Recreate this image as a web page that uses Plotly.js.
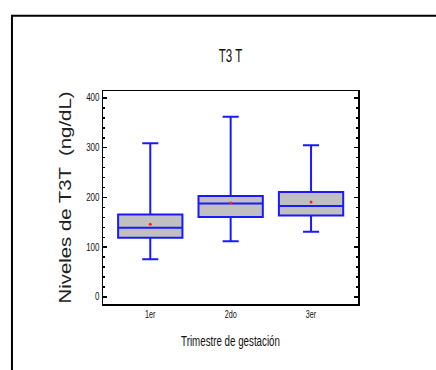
<!DOCTYPE html>
<html>
<head>
<meta charset="utf-8">
<script src="https://cdn.plot.ly/plotly-3.0.1.min.js"></script>
<style>
html,body{margin:0;padding:0;background:#fff;}
#chart{width:436px;height:370px;}
</style>
</head>
<body>
<div id="chart"></div>
<script>
// ---- data ----
const categories = ['1er', '2do', '3er'];
const lowerWhisker = [76, 112, 131];
const q1Values = [119, 161, 164];
const medianValues = [139, 188, 183];
const q3Values = [166, 203, 211];
const upperWhisker = [309, 362, 305];
const meanValues = [146, 189, 191];
const yTickValues = [0, 100, 200, 300, 400];
const yTickLabels = ['0', '100', '200', '300', '400'];

const chartTitle = 'T3 T';
const xTitle = 'Trimestre de gestación';
const yTitle = 'Niveles de T3T  (ng/dL)';

const boxTrace = {
  type: 'box',
  x: categories,
  q1: q1Values,
  median: medianValues,
  q3: q3Values,
  lowerfence: lowerWhisker,
  upperfence: upperWhisker,
  width: 0.8,
  whiskerwidth: 0.25,
  fillcolor: '#c0c0c0',
  line: {color: '#1a1aff', width: 2},
  boxpoints: false,
  hoverinfo: 'skip',
  showlegend: false
};

const meanTrace = {
  type: 'scatter',
  mode: 'markers',
  x: categories,
  y: meanValues,
  marker: {color: '#ff2020', size: 3, symbol: 'circle'},
  hoverinfo: 'skip',
  showlegend: false
};

const narrow = 'Liberation Sans, Arial, sans-serif';

const layout = {
  width: 436,
  height: 370,
  margin: {l: 103, r: 78, t: 91, b: 66, pad: 0},
  paper_bgcolor: '#ffffff',
  plot_bgcolor: '#ffffff',
  showlegend: false,
  title: {
    text: chartTitle,
    font: {family: narrow, size: 17.5, color: '#111'},
    x: 0.5, xref: 'paper', xanchor: 'center',
    y: 0.85, yref: 'container', yanchor: 'middle'
  },
  xaxis: {
    type: 'category',
    range: [-0.588, 2.584],
    showline: true, mirror: true, linecolor: '#000', linewidth: 1.5,
    ticks: '', showgrid: false, zeroline: false,
    tickfont: {family: narrow, size: 10, color: '#111'},
    title: {text: xTitle, font: {family: narrow, size: 15, color: '#111'}, standoff: 17},
    automargin: false, fixedrange: true
  },
  yaxis: {
    range: [-14.1, 414],
    tickvals: yTickValues,
    ticktext: yTickLabels,
    showline: true, mirror: 'ticks', linecolor: '#000', linewidth: 1.5,
    ticks: 'inside', ticklen: 4, tickwidth: 1.5, tickcolor: '#000',
    minor: {dtick: 20, ticks: 'inside', ticklen: 2, tickwidth: 1.5, tickcolor: '#000'},
    showgrid: false, zeroline: false,
    tickfont: {family: narrow, size: 10, color: '#111'},
    title: {text: yTitle, font: {family: narrow, size: 16, color: '#222'}, standoff: 7},
    automargin: false, fixedrange: true
  },
  shapes: [{
    type: 'rect', xref: 'paper', yref: 'paper',
    x0: -0.357, x1: 2, y0: -1, y1: 1.353,
    line: {color: '#000', width: 2}, fillcolor: 'rgba(0,0,0,0)', layer: 'above'
  }]
};

Plotly.newPlot('chart', [boxTrace, meanTrace], layout, {staticPlot: true, displayModeBar: false}).then(function (gd) {
  function squeeze(sel, k) {
    gd.querySelectorAll(sel).forEach(function (t) {
      const w = t.getComputedTextLength();
      if (w > 0) {
        t.setAttribute('textLength', (w * k).toFixed(2));
        t.setAttribute('lengthAdjust', 'spacingAndGlyphs');
      }
    });
  }
  squeeze('.gtitle', 0.66);
  squeeze('.xtitle', 0.65);
  squeeze('.xtick text', 0.72);
  squeeze('.ytick text', 0.8);
  gd.querySelectorAll('.ytitle').forEach(function (t) {
    t.setAttribute('textLength', '212');
    t.setAttribute('lengthAdjust', 'spacingAndGlyphs');
  });
});
</script>
</body>
</html>
